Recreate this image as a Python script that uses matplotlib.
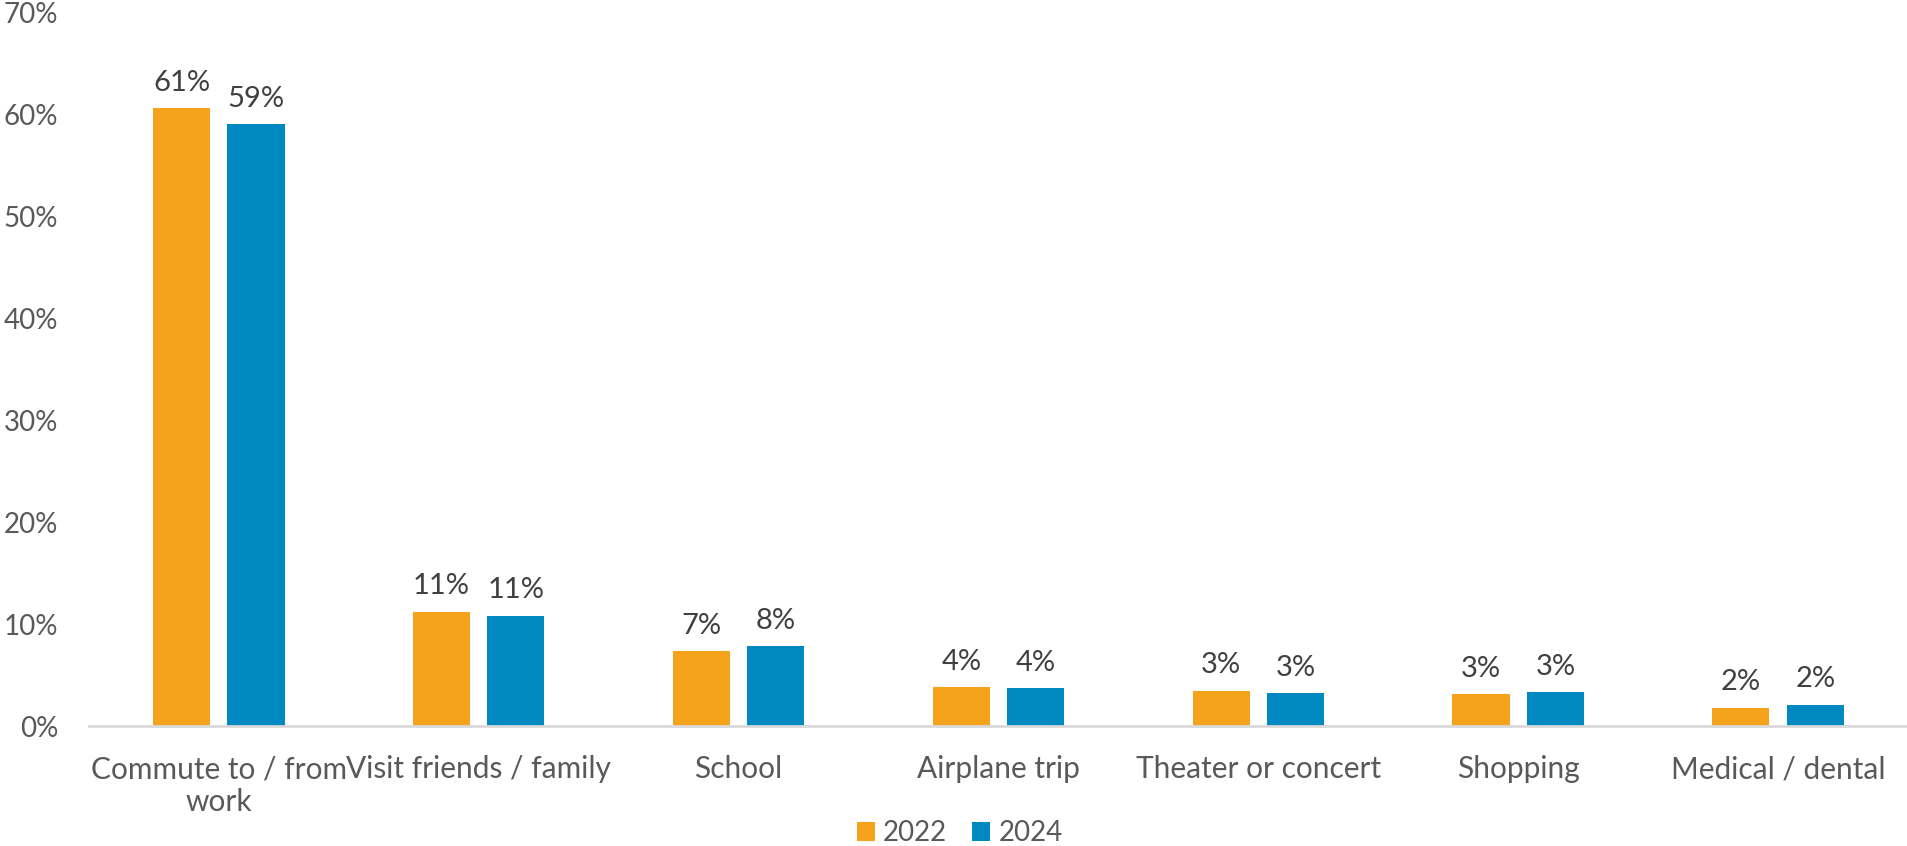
import numpy as np
import matplotlib.pyplot as plt

# Share of trips by purpose, 2022 vs 2024 (percent)
categories = ["Commute to / from\nwork", "Visit friends / family", "School",
              "Airplane trip", "Theater or concert", "Shopping", "Medical / dental"]
share_2022 = [60.6, 11.2, 7.35, 3.8, 3.45, 3.1, 1.8]
share_2024 = [59.0, 10.8, 7.8, 3.7, 3.2, 3.3, 2.1]
years = ["2022", "2024"]

ORANGE = "#F5A31B"
BLUE = "#0088C0"
TEXT = "#595959"
LABEL = "#404040"

plt.rcParams['font.family'] = ['Lato', 'DejaVu Sans']

fig = plt.figure(figsize=(19.08, 8.46), dpi=100)
ax = fig.add_axes([0.0466, 0.1418, 0.9534, 0.8438])

x = np.arange(len(categories))
width = 0.22
offset = 0.143

bars_a = ax.bar(x - offset, share_2022, width, color=ORANGE, label=years[0])
bars_b = ax.bar(x + offset, share_2024, width, color=BLUE, label=years[1])

for bars, vals in ((bars_a, share_2022), (bars_b, share_2024)):
    for b, v in zip(bars, vals):
        ax.annotate(f"{v:.0f}%", (b.get_x() + b.get_width() / 2, v),
                    xytext=(0, 9), textcoords="offset points",
                    ha="center", va="bottom", fontsize=21, color=LABEL)

ax.set_xlim(-0.5, len(categories) - 0.5)
ax.set_ylim(0, 70)
ax.set_yticks(range(0, 71, 10))
ax.set_yticklabels([f"{t}%" for t in range(0, 71, 10)])
ax.set_xticks(x)
ax.set_xticklabels(categories, linespacing=1.2)

for s in ("top", "right", "left"):
    ax.spines[s].set_visible(False)
ax.spines["bottom"].set_color("#D9D9D9")
ax.spines["bottom"].set_linewidth(2)
ax.tick_params(axis="both", length=0, labelsize=20, colors=TEXT)
ax.tick_params(axis="x", pad=21, labelsize=21.5)
ax.tick_params(axis="y", pad=22)

fig.legend(loc="lower center", bbox_to_anchor=(0.503, -0.03), ncol=2, frameon=False,
           fontsize=20, handlelength=0.65, handleheight=0.65, handletextpad=0.3,
           columnspacing=0.9, labelcolor=TEXT)

fig.savefig("out.png", dpi=100, facecolor="white")
